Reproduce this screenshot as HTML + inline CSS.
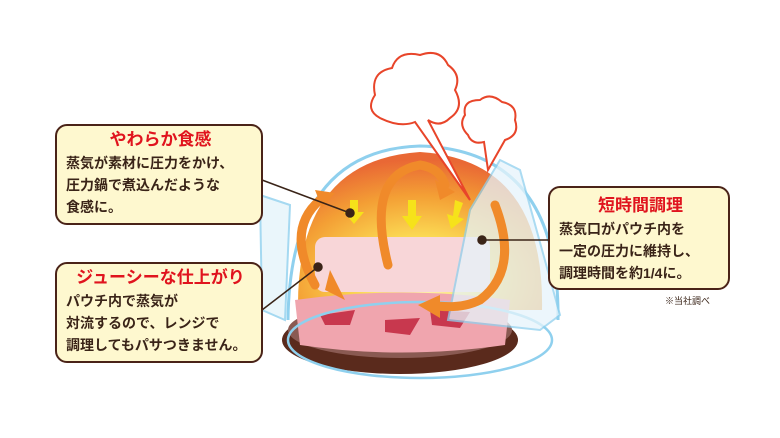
<!DOCTYPE html>
<html><head><meta charset="utf-8"><style>
html,body{margin:0;padding:0;background:#fff;}
body{width:780px;height:438px;position:relative;overflow:hidden;font-family:"Liberation Sans","Noto Sans CJK JP",sans-serif;}
.box{position:absolute;background:#fef8cf;border:2.5px solid #4a2318;border-radius:12px;box-sizing:border-box;color:#3a2418;font-weight:bold;white-space:nowrap;}
.box h3{margin:0;color:#e0141e;font-size:17px;text-align:center;line-height:24px;}
.box p{margin:0;font-size:14px;line-height:22px;}
</style></head><body>
<svg width="780" height="438" style="position:absolute;left:0;top:0">
<defs>
<radialGradient id="heat" cx="0.5" cy="0.8" r="0.75">
<stop offset="0" stop-color="#fffbd0"/><stop offset="0.35" stop-color="#fbd84a"/><stop offset="0.7" stop-color="#f39a2a"/><stop offset="1" stop-color="#e8602a"/>
</radialGradient>
</defs>
<ellipse cx="400" cy="340" rx="118" ry="34" fill="#5a2a1c"/>
<ellipse cx="400" cy="330" rx="112" ry="28" fill="#8a5a52"/>
<path d="M298 310 Q296 160 420 152 Q545 160 542 310 Z" fill="url(#heat)" opacity="0.95"/>
<rect x="315" y="237" width="175" height="55" rx="10" fill="#f8d6d8"/>
<path d="M295 300 Q400 285 510 300 L505 345 Q400 360 300 345 Z" fill="#f0a5ae"/>
<path d="M320 315 L355 310 L350 325 L325 325Z M385 320 L420 318 L410 335 L385 332Z M430 310 L470 312 L460 328 L432 325Z" fill="#c8384e"/>
<path d="M288 320 Q290 150 420 146 Q560 150 558 320" fill="none" stroke="#8fd0ee" stroke-width="3"/>
<ellipse cx="420" cy="340" rx="132" ry="38" fill="none" stroke="#8fd0ee" stroke-width="2.5"/>
<path d="M500 160 L520 170 L560 315 L540 330 L448 320 L470 210Z" fill="#e6f4fb" opacity="0.75" stroke="#8fd0ee" stroke-width="2"/>
<path d="M260 195 L290 205 L285 320 L262 310Z" fill="#e6f4fb" opacity="0.8" stroke="#8fd0ee" stroke-width="2"/>
<g fill="#f6e21a"><path d="M350 200 h8 v12 h6 l-10 12 l-10-12 h6z"/><path d="M408 200 h8 v16 h6 l-10 14 l-10-14 h6z"/><path d="M455 200 l8 3 l-5 14 l6 2 l-13 10 l-4-15 l6 2z"/></g>
<g fill="none" stroke="#f08a2a" stroke-width="9" stroke-linecap="round">
<path d="M388 265 Q365 175 420 165 Q440 168 445 185"/>
<path d="M315 285 Q285 230 320 200"/>
<path d="M495 205 Q520 270 480 300 Q460 310 430 305"/>
</g>
<g fill="#f08a2a"><path d="M435 180 L455 192 L440 200Z"/><path d="M315 190 L335 193 L322 208Z"/><path d="M440 295 L418 305 L440 318Z"/><path d="M325 290 L345 300 L330 270Z"/></g>
<g fill="#fff" stroke="#e8452a" stroke-width="2">
<path d="M380 118 Q365 110 375 95 Q370 72 392 68 Q398 50 420 55 Q440 48 448 65 Q462 75 455 90 Q465 108 450 118 Q440 128 428 120 L470 200 L415 122 Q400 128 380 118Z"/>
<path d="M468 135 Q458 125 465 115 Q462 100 480 100 Q490 92 502 102 Q518 105 515 120 Q520 135 505 140 L488 170 L484 142 Q472 145 468 135Z"/>
</g>
<g stroke="#3a2418" stroke-width="1.5" fill="#3a2418">
<line x1="262" y1="180" x2="350" y2="213"/><circle cx="350" cy="213" r="4"/>
<line x1="262" y1="310" x2="318" y2="267"/><circle cx="318" cy="267" r="4"/>
<line x1="482" y1="240" x2="548" y2="240"/><circle cx="482" cy="240" r="4"/>
</g>
<text x="665" y="304" font-size="9" fill="#3a2418" font-family="Liberation Sans,Noto Sans CJK JP,sans-serif">※当社調べ</text>
</svg>
<div class="box" style="left:55px;top:124px;width:208px;height:101px;padding:2px 6px 0 9px;">
<h3>やわらか食感</h3><p>蒸気が素材に圧力をかけ、<br>圧力鍋で煮込んだような<br>食感に。</p></div>
<div class="box" style="left:55px;top:262px;width:208px;height:101px;padding:2px 6px 0 9px;">
<h3>ジューシーな仕上がり</h3><p>パウチ内で蒸気が<br>対流するので、レンジで<br>調理してもパサつきません。</p></div>
<div class="box" style="left:548px;top:186px;width:182px;height:104px;padding:6px 6px 0 9px;">
<h3>短時間調理</h3><p>蒸気口がパウチ内を<br>一定の圧力に維持し、<br>調理時間を約1/4に。</p></div>
</body></html>
